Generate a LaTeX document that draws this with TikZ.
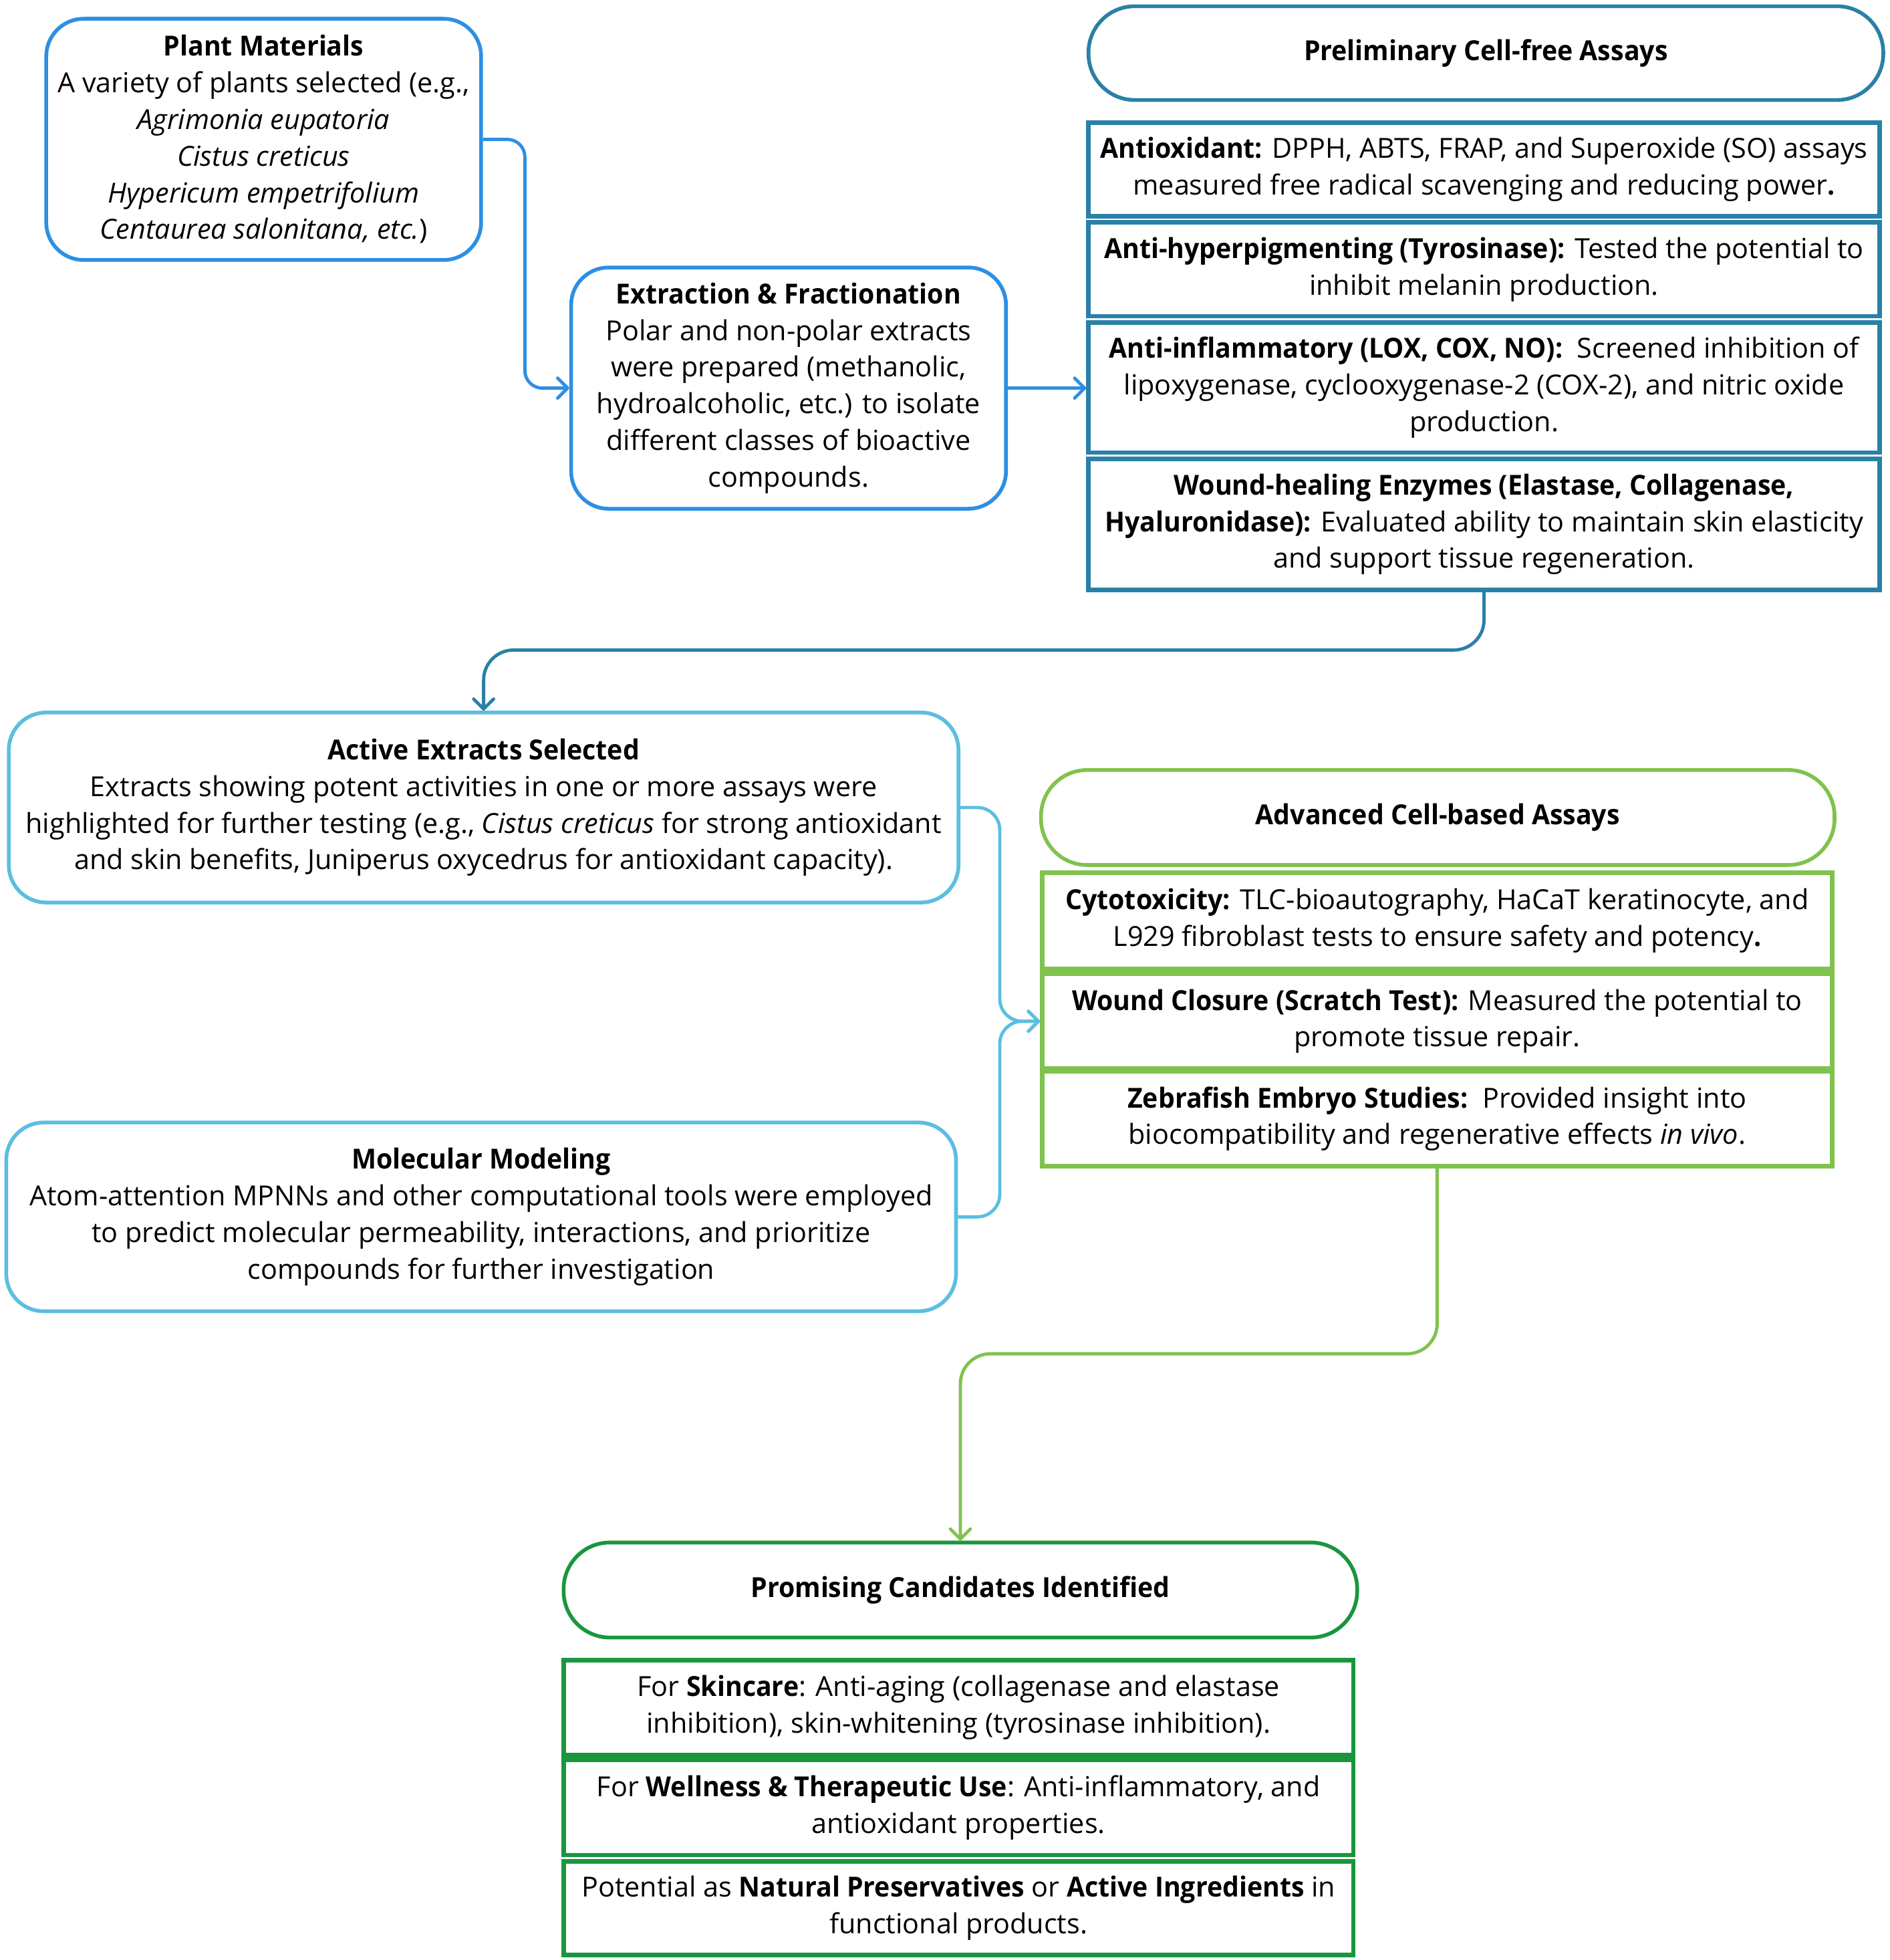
\documentclass[tikz,border=0pt]{standalone}
\usepackage{fontspec}
\setmainfont{Open Sans}[BoldFeatures={FakeStretch=0.95},BoldItalicFeatures={FakeStretch=0.95}]
\usetikzlibrary{arrows.meta,calc}
\definecolor{cblue}{RGB}{45,143,228}
\definecolor{cteal}{RGB}{42,128,166}
\definecolor{clblue}{RGB}{92,190,224}
\definecolor{cgreen}{RGB}{128,194,78}
\definecolor{cdgreen}{RGB}{26,150,62}
\begin{document}
\begin{tikzpicture}[x=0.5pt,y=-0.5pt,
  txt/.style={align=center,inner sep=0pt,font={\fontsize{11.05}{14.65}\selectfont}},
  rbox/.style={txt,draw,line width=1.5pt,rounded corners=15pt},
  pill/.style={txt,draw,line width=1.5pt,rounded corners=18.5pt},
  sbox/.style={txt,draw,line width=1.8pt},
  conn/.style={line width=1.3pt,rounded corners=9pt,-{Straight Barb[length=4pt,width=8pt,line cap=round,line join=round]}}]
\useasboundingbox (0,0) rectangle (1512,1568);
% top row
\node[rbox,draw=cblue,minimum width=174pt,minimum height=96.5pt] (plant) at (211,111.5)
 {\textbf{Plant Materials}\\A variety of plants selected (e.g.,\\\textit{Agrimonia eupatoria}\\\textit{Cistus creticus}\\\textit{Hypericum empetrifolium}\\\textit{Centaurea salonitana, etc.})};
\node[rbox,draw=cblue,minimum width=174pt,minimum height=96.5pt] (extract) at (631,310.5)
 {\textbf{Extraction \& Fractionation}\\Polar and non-polar extracts\\were prepared (methanolic,\\hydroalcoholic, etc.) to isolate\\different classes of bioactive\\compounds.};
\node[pill,draw=cteal,minimum width=318pt,minimum height=37.5pt] (prelim) at (1189,42.5)
 {\textbf{Preliminary Cell-free Assays}};
\node[sbox,draw=cteal,minimum width=316.5pt,minimum height=37.5pt] (r1) at (1187.5,135.5)
 {\textbf{Antioxidant:} DPPH, ABTS, FRAP, and Superoxide (SO) assays\\measured free radical scavenging and reducing power\textbf{.}};
\node[sbox,draw=cteal,minimum width=316.5pt,minimum height=37.5pt] (r2) at (1187.5,215.5)
 {\textbf{Anti-hyperpigmenting (Tyrosinase):} Tested the potential to\\inhibit melanin production.};
\node[sbox,draw=cteal,minimum width=316.5pt,minimum height=52pt] (r3) at (1187.5,310)
 {\textbf{Anti-inflammatory (LOX, COX, NO):}\ \ Screened inhibition of\\lipoxygenase, cyclooxygenase-2 (COX-2), and nitric oxide\\production.};
\node[sbox,draw=cteal,minimum width=316.5pt,minimum height=52.5pt] (r4) at (1187.5,419.5)
 {\textbf{Wound-healing Enzymes (Elastase, Collagenase,}\\\textbf{Hyaluronidase):} Evaluated ability to maintain skin elasticity\\and support tissue regeneration.};
% middle
\node[rbox,draw=clblue,minimum width=380pt,minimum height=76pt] (active) at (387,646)
 {\textbf{Active Extracts Selected}\\Extracts showing potent activities in one or more assays were\\highlighted for further testing (e.g., \textit{Cistus creticus} for strong antioxidant\\and skin benefits, Juniperus oxycedrus for antioxidant capacity).};
\node[rbox,draw=clblue,minimum width=380pt,minimum height=75.5pt] (mol) at (385,973.5)
 {\textbf{Molecular Modeling}\\Atom-attention MPNNs and other computational tools were employed\\to predict molecular permeability, interactions, and prioritize\\compounds for further investigation};
\node[pill,draw=cgreen,minimum width=317.5pt,minimum height=38pt] (adv) at (1150.5,654)
 {\textbf{Advanced Cell-based Assays}};
\node[sbox,draw=cgreen,minimum width=316pt,minimum height=38.5pt] (g1) at (1150,736.5)
 {\textbf{Cytotoxicity:} TLC-bioautography, HaCaT keratinocyte, and\\L929 fibroblast tests to ensure safety and potency\textbf{.}};
\node[sbox,draw=cgreen,minimum width=316pt,minimum height=38pt] (g2) at (1150,817)
 {\textbf{Wound Closure (Scratch Test):} Measured the potential to\\promote tissue repair.};
\node[sbox,draw=cgreen,minimum width=316pt,minimum height=38pt] (g3) at (1150,895)
 {\textbf{Zebrafish Embryo Studies:}\ \ Provided insight into\\biocompatibility and regenerative effects \textit{in vivo}.};
% bottom
\node[pill,draw=cdgreen,minimum width=317.5pt,minimum height=38pt] (prom) at (768.5,1272)
 {\textbf{Promising Candidates Identified}};
\node[sbox,draw=cdgreen,minimum width=316pt,minimum height=38pt] (p1) at (767,1366)
 {For \textbf{Skincare}: Anti-aging (collagenase and elastase\\inhibition), skin-whitening (tyrosinase inhibition).};
\node[sbox,draw=cdgreen,minimum width=316pt,minimum height=38pt] (p2) at (767,1446)
 {For \textbf{Wellness \& Therapeutic Use}: Anti-inflammatory, and\\antioxidant properties.};
\node[sbox,draw=cdgreen,minimum width=316pt,minimum height=37.5pt] (p3) at (767,1526.5)
 {Potential as \textbf{Natural Preservatives} or \textbf{Active Ingredients} in\\functional products.};
% connectors
\coordinate (j1) at (420,0);
\coordinate (j2) at (0,520);
\coordinate (j3) at (800,0);
\coordinate (j4) at (0,1083);
\draw[conn,cblue,rounded corners=7pt] (plant.east) -| (j1 |- extract.west) -- (extract.west);
\draw[conn,cblue] (extract.east) -- (r3.west |- extract.east);
\draw[conn,cteal,rounded corners=12pt] (r4.south) |- (active.north |- j2) -- (active.north);
\draw[conn,clblue] (active.east) -| (j3 |- g2.west) -- (g2.west);
\draw[conn,clblue] (mol.east) -| (j3 |- g2.west) -- (g2.west);
\draw[conn,cgreen,rounded corners=12pt] (g3.south) |- (prom.north |- j4) -- (prom.north);
\end{tikzpicture}
\end{document}
